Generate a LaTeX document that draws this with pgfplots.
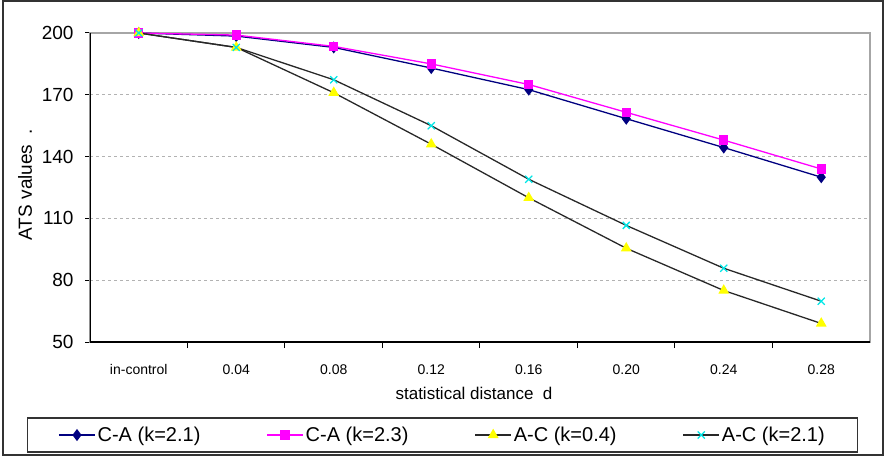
\documentclass[border=0pt]{standalone}
\usepackage{pgfplots}
\pgfplotsset{compat=1.18}
\usepackage{fontspec}
\setmainfont{Liberation Sans}
\definecolor{navy}{RGB}{0,0,128}
\definecolor{mag}{RGB}{255,0,255}
\definecolor{yel}{RGB}{255,255,0}
\definecolor{cya}{RGB}{0,230,230}
\definecolor{ln}{RGB}{40,40,40}
\begin{document}
\begin{tikzpicture}
\useasboundingbox (0pt,0pt) rectangle (887pt,456pt);
\draw[line width=1.2pt, black!80] (3pt,1pt) rectangle (883pt,455pt);
\begin{axis}[
  at={(90pt,114pt)}, anchor=south west,
  scale only axis, width=780pt, height=309pt,
  xmin=-0.5, xmax=7.5, ymin=50, ymax=200,
  xtick={0,...,7},
  xticklabels={in-control,0.04,0.08,0.12,0.16,0.20,0.24,0.28},
  major x tick style={draw=none},
  minor xtick={0.5,1.5,...,6.5},
  minor x tick style={black, line width=1pt},
  minor tick length=6pt,
  x tick label style={font=\fontsize{14}{14}\selectfont, yshift=-14pt},
  ytick={50,80,110,140,170,200},
  y tick label style={font=\fontsize{19}{19}\selectfont, xshift=-8pt},
  ytick style={black, line width=1pt},
  major tick length=5pt,
  tick align=outside,
  xtick pos=bottom, ytick pos=left,
  /pgf/number format/assume math mode=true,
  ymajorgrids, grid style={dashed, gray!60, line width=0.8pt},
  axis line style={gray!70, line width=1.5pt},
  xlabel={statistical distance\ \ d},
  ylabel={ATS values\ \ .},
  every axis x label/.style={at={(axis description cs:0.5,0)}, yshift=-51pt, xshift=-6pt, anchor=center, font=\fontsize{17}{17}\selectfont},
  every axis y label/.style={at={(axis description cs:0,0.5)}, xshift=-65pt, yshift=3pt, rotate=90, anchor=center, font=\fontsize{19}{19}\selectfont},
  legend columns=4,
  legend style={at={(axis description cs:0.452,-0.301)}, anchor=center,
    draw=black!80, line width=1.2pt, font=\fontsize{20}{20}\selectfont,
    inner xsep=31pt, inner ysep=7pt,
    /tikz/every even column/.append style={column sep=64pt}},
  legend image code/.code={\draw[mark repeat=2, mark phase=2, #1] plot coordinates {(0pt,0pt) (18pt,0pt) (36pt,0pt)};},
  every axis plot/.append style={line width=1.3pt},
]
\addplot[navy, mark=diamond*, mark size=5pt, mark options={fill=navy}] coordinates {
(0,200) (1,198.5) (2,193) (3,183) (4,172.5) (5,158.4) (6,144.4) (7,130)};
\addplot[mag, mark=square*, mark size=4pt, mark options={fill=mag}] coordinates {
(0,200) (1,199) (2,193.5) (3,185) (4,175) (5,161.5) (6,148) (7,134)};
\addplot[ln, mark=triangle*, mark size=5pt, mark options={fill=yel, draw=yel}] coordinates {
(0,200) (1,193) (2,171) (3,146) (4,120) (5,95.5) (6,75) (7,59)};
\addplot[ln, mark=x, mark size=5pt, mark options={draw=cya, line width=1.3pt}] coordinates {
(0,200) (1,193) (2,177.3) (3,155) (4,129) (5,106.6) (6,85.8) (7,69.8)};
\legend{C-A (k=2.1),C-A (k=2.3),A-C (k=0.4),A-C (k=2.1)}
\draw[black, line width=1.5pt] (rel axis cs:0,1) -- (rel axis cs:0,0) -- (rel axis cs:1,0);
\end{axis}
\end{tikzpicture}
\end{document}
